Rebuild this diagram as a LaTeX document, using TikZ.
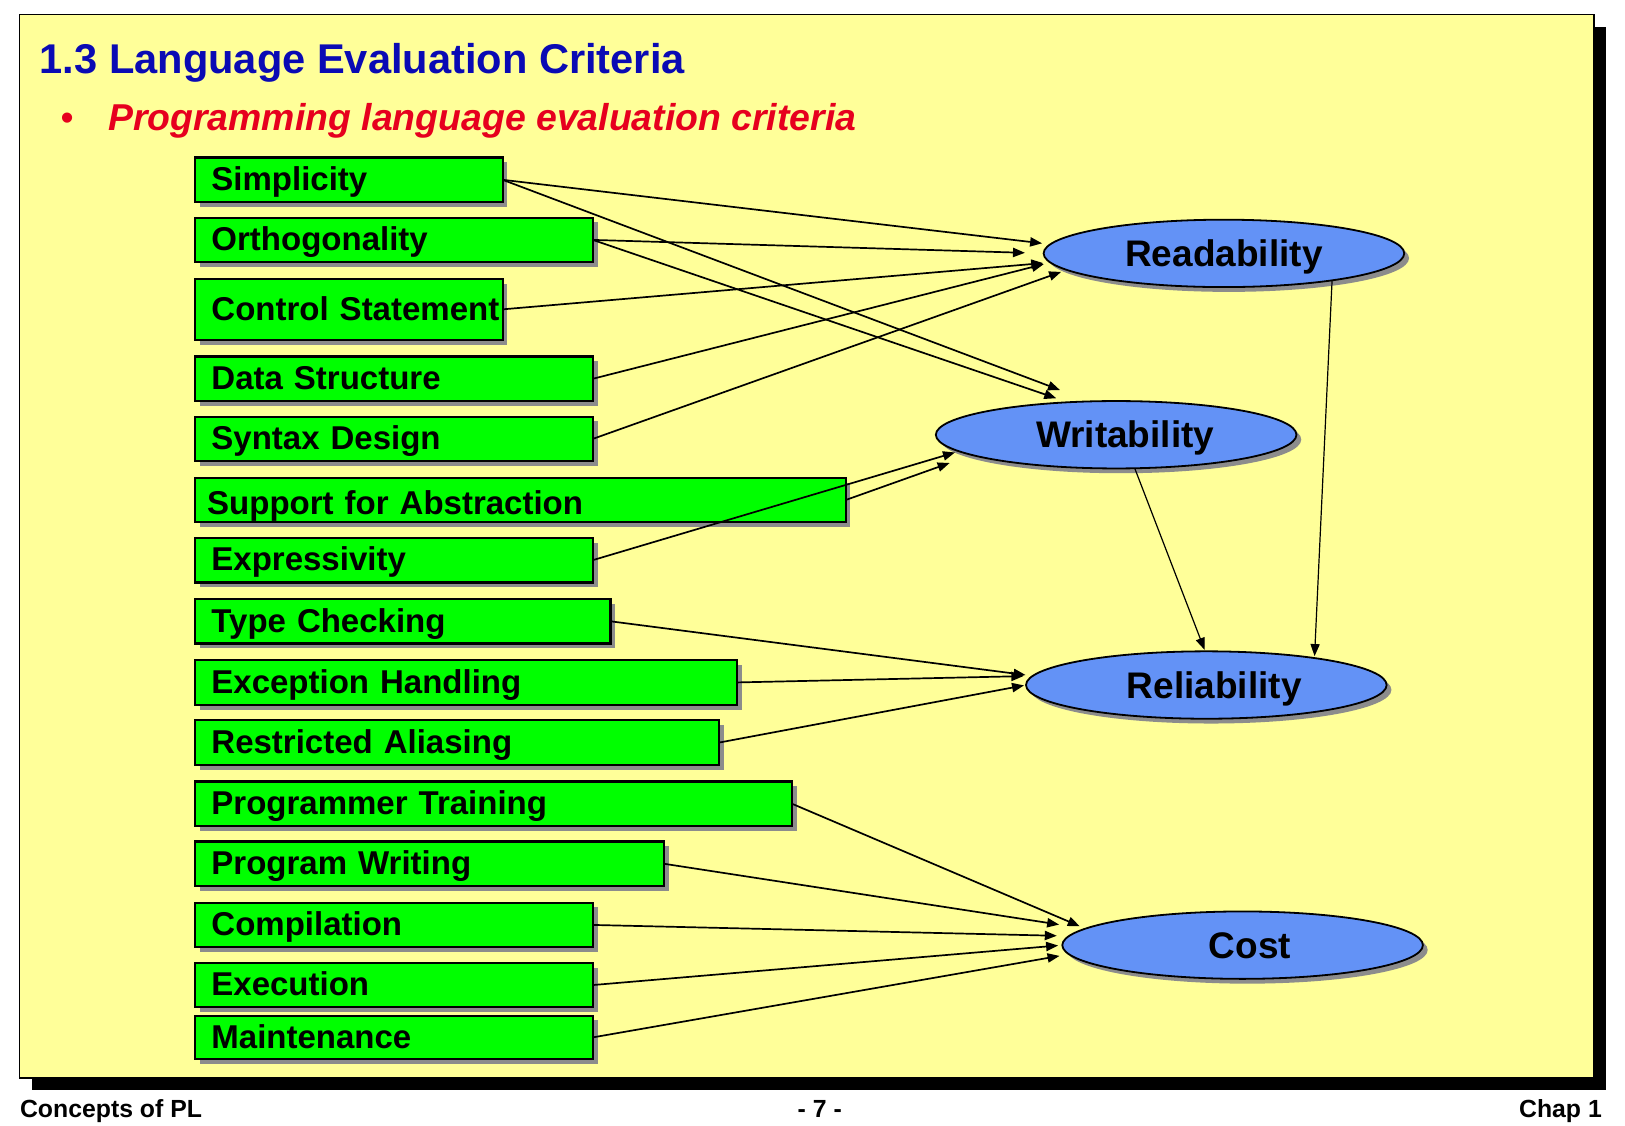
\documentclass[tikz,border=0pt]{standalone}
\usepackage{fontspec}
\setmainfont{Liberation Sans}
\usetikzlibrary{arrows.meta,shadows,shapes.geometric}
\definecolor{slidebg}{RGB}{255,255,153}
\definecolor{boxgreen}{RGB}{0,255,0}
\definecolor{ellblue}{RGB}{99,146,246}
\definecolor{titleblue}{RGB}{10,10,180}
\definecolor{subred}{RGB}{230,0,30}
\begin{document}
\begin{tikzpicture}[x=0.51818pt,y=-0.51818pt,
  critbox/.style={draw=black, line width=1.1pt, fill=boxgreen, anchor=north west,
    inner ysep=0pt, inner xsep=8.3pt, outer sep=0pt, text width=#1, align=left,
    minimum height=22.28pt, font=\fontsize{16.5}{19}\selectfont\bfseries,
    text height=11.8pt, text depth=1pt,
    drop shadow={shadow xshift=2.4pt, shadow yshift=-2.4pt, fill=black!45, opacity=1}},
  quality/.style={ellipse, draw=black, line width=0.9pt, fill=ellblue,
    minimum width=180.3pt, minimum height=33.7pt, inner sep=0pt, outer sep=0pt,
    font=\fontsize{18.5}{22}\selectfont\bfseries, text height=13.2pt, text depth=0pt,
    drop shadow={shadow xshift=2.4pt, shadow yshift=-2.4pt, fill=black!45, opacity=1}},
  arr/.style={-{Triangle[length=6pt,width=4.6pt]}, line width=0.85pt},
  thinarr/.style={-{Triangle[length=6pt,width=4.6pt]}, line width=0.6pt},
  foot/.style={inner sep=0pt, font=\fontsize{12.4}{15}\selectfont\bfseries}
]
\useasboundingbox (0,0) rectangle (1568,1086);
\fill[white] (0,0) rectangle (1568,1086);
% slide frame
\fill[black] (31,26) rectangle (1550,1052);
\draw[fill=slidebg, line width=0.8pt] (19,14) rectangle (1538,1040);

% headings
\node[anchor=base west, inner sep=0pt, text=titleblue, font=\fontsize{20.8}{25}\selectfont\bfseries] (title) at (38,70.6) {1.3 Language Evaluation Criteria};
\node[anchor=base west, inner sep=0pt, text=subred, font=\fontsize{18.7}{22}\selectfont] (bullet) at (58,125.5) {•};
\node[anchor=base west, inner sep=0pt, text=subred, font=\fontsize{18.7}{22}\selectfont\bfseries\itshape] (subtitle) at (104,125.5) {Programming language evaluation criteria};

% criteria boxes
\node[critbox=137.3pt] (simp) at (188,152) {Simplicity};
\node[critbox=182.4pt] (orth) at (188,210) {Orthogonality};
\node[critbox=137.3pt, minimum height=30.57pt] (ctrl) at (188,269) {\mbox{Control Statement}};
\node[critbox=182.4pt] (data) at (188,344) {Data Structure};
\node[critbox=182.4pt] (synt) at (188,402) {Syntax Design};
\node[critbox=313pt, inner xsep=6.2pt, text height=15.8pt] (abst) at (188,461) {Support for Abstraction};
\node[critbox=182.4pt] (expr) at (188,519) {Expressivity};
\node[critbox=191.2pt] (tchk) at (188,578) {Type Checking};
\node[critbox=254.4pt] (exch) at (188,637) {Exception Handling};
\node[critbox=245.6pt] (alias) at (188,695) {Restricted Aliasing};
\node[critbox=281.9pt] (train) at (188,754) {Programmer Training};
\node[critbox=218.1pt] (pwrite) at (188,812) {Program Writing};
\node[critbox=182.4pt] (comp) at (188,871) {Compilation};
\node[critbox=182.4pt] (exec) at (188,929) {Execution};
\node[critbox=182.4pt, minimum height=21.76pt] (maint) at (188,980) {Maintenance};

% quality ellipses
\node[quality] (read) at (1181,244.5) {Readability};
\node[quality] (writ) at (1077,419.5) {\hspace*{9pt}Writability};
\node[quality] (rel) at (1164,661) {\hspace*{8pt}Reliability};
\node[quality] (cost) at (1199,912) {\hspace*{7.3pt}Cost};

% connectors to Readability
\draw[arr, shorten >=4.15pt] (simp.east) -- (read.177);
\draw[arr, shorten >=9.33pt] (orth.east) -- (read.180);
\draw[arr, shorten >=3.6pt] (ctrl.east) -- (read.183);
\draw[arr, shorten >=3.4pt] (data.east) -- (read.183);
\draw[arr, shorten >=3.0pt] (synt.east) -- (read.186);
% connectors to Writability
\draw[arr, shorten >=16.1pt] (simp.east) -- (writ.128);
\draw[arr, shorten >=6.2pt] (orth.east) -- (writ.146);
\draw[arr, shorten >=11.9pt] (abst.east) -- (writ.188);
\draw[arr, shorten >=2.1pt] (expr.east) -- (writ.186);
% connectors to Reliability
\draw[arr, shorten >=3.6pt] (tchk.east) -- (rel.177);
\draw[arr, shorten >=4.7pt] (exch.east) -- (rel.177);
\draw[arr, shorten >=1.0pt] (alias.east) -- (rel.180);
\draw[thinarr, shorten >=1pt] (read.346) -- (rel.14);
\draw[thinarr, shorten >=0.8pt] (writ.299) -- (rel.92);
% connectors to Cost
\draw[arr, shorten >=3.1pt] (train.east) -- (cost.174);
\draw[arr, shorten >=13.3pt] (pwrite.east) -- (cost.174);
\draw[arr, shorten >=6.1pt] (comp.east) -- (cost.177);
\draw[arr, shorten >=2.1pt] (exec.east) -- (cost.180);
\draw[arr, shorten >=4.8pt] (maint.east) -- (cost.183);

% footer
\node[foot, anchor=base west] (footL) at (19,1078) {Concepts of PL};
\node[foot, anchor=base] (footC) at (791,1078) {- 7 -};
\node[foot, anchor=base east] (footR) at (1546,1078) {Chap 1};
\end{tikzpicture}
\end{document}
